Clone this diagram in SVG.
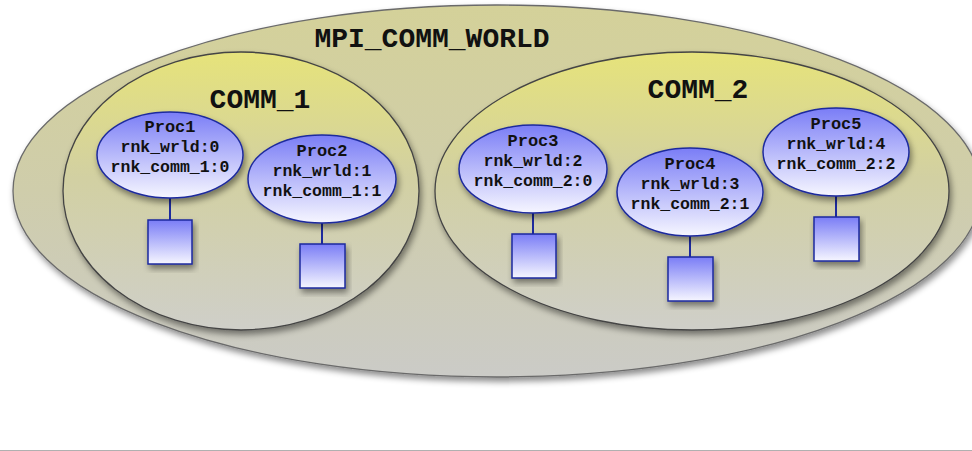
<svg xmlns="http://www.w3.org/2000/svg" width="972" height="451" viewBox="0 0 972 451">
<defs>
<linearGradient id="gWorld" x1="0" y1="0" x2="0" y2="1">
<stop offset="0" stop-color="#d4d199"/>
<stop offset="0.5" stop-color="#cfcdab"/>
<stop offset="1" stop-color="#cbcbc7"/>
</linearGradient>
<linearGradient id="gComm" x1="0" y1="0" x2="0" y2="1">
<stop offset="0" stop-color="#e6e37a"/>
<stop offset="0.45" stop-color="#d2d0a2"/>
<stop offset="1" stop-color="#cfcfc9"/>
</linearGradient>
<linearGradient id="gProc" x1="0" y1="0" x2="0" y2="1">
<stop offset="0" stop-color="#7a7df6"/>
<stop offset="1" stop-color="#f6f6ff"/>
</linearGradient>
<filter id="sh" x="-10%" y="-10%" width="125%" height="130%">
<feDropShadow dx="2" dy="4" stdDeviation="3" flood-color="#000" flood-opacity="0.45"/>
</filter>
</defs>
<style>
.world{fill:url(#gWorld);stroke:#6b6b6b;stroke-width:1.3;filter:url(#sh)}
.comm{fill:url(#gComm);stroke:#444;stroke-width:1.3;filter:url(#sh)}
.proc{fill:url(#gProc);stroke:#1d2a9e;stroke-width:1.5;filter:url(#sh)}
.box{fill:url(#gProc);stroke:#1d2a9e;stroke-width:1.5;filter:url(#sh)}
.big{font-family:"Liberation Mono","Courier New",monospace;font-weight:bold;font-size:28px;fill:#111;text-anchor:middle}
.t{font-family:"Liberation Mono","Courier New",monospace;font-weight:bold;font-size:16.5px;fill:#111;text-anchor:middle}
.t1{font-size:17px}
.conn{stroke:#1d2a9e;stroke-width:2;fill:none}
</style>
<rect x="0" y="0" width="972" height="451" fill="#fff"/>
<g id="mpi_comm_world">
<ellipse class="world" cx="497" cy="191" rx="484" ry="186"/>
<text class="big" x="432" y="47">MPI_COMM_WORLD</text>
</g>
<g id="comm_1">
<ellipse class="comm" cx="241" cy="191" rx="178" ry="139"/>
<text class="big" x="260" y="108">COMM_1</text>
</g>
<g id="comm_2">
<ellipse class="comm" cx="692" cy="191" rx="257" ry="139"/>
<text class="big" x="698" y="98">COMM_2</text>
</g>
<g id="connectors">
<line class="conn" x1="170" y1="198" x2="170" y2="220"/>
<line class="conn" x1="322" y1="223" x2="322" y2="244"/>
<line class="conn" x1="533" y1="213" x2="533" y2="234"/>
<line class="conn" x1="690" y1="236" x2="690" y2="257"/>
<line class="conn" x1="836" y1="195" x2="836" y2="217"/>
</g>
<g id="proc1">
<ellipse class="proc" cx="170" cy="155" rx="73" ry="43"/>
<text class="t t1" x="170" y="132">Proc1</text>
<text class="t" x="170" y="152">rnk_wrld:0</text>
<text class="t" x="170" y="172">rnk_comm_1:0</text>
</g>
<g id="proc2">
<ellipse class="proc" cx="322" cy="179" rx="74" ry="44"/>
<text class="t t1" x="322" y="156">Proc2</text>
<text class="t" x="322" y="176">rnk_wrld:1</text>
<text class="t" x="322" y="196">rnk_comm_1:1</text>
</g>
<g id="proc3">
<ellipse class="proc" cx="533" cy="169" rx="74" ry="44"/>
<text class="t t1" x="533" y="146">Proc3</text>
<text class="t" x="533" y="166">rnk_wrld:2</text>
<text class="t" x="533" y="186">rnk_comm_2:0</text>
</g>
<g id="proc4">
<ellipse class="proc" cx="690" cy="192" rx="73" ry="44"/>
<text class="t t1" x="690" y="169">Proc4</text>
<text class="t" x="690" y="189">rnk_wrld:3</text>
<text class="t" x="690" y="209">rnk_comm_2:1</text>
</g>
<g id="proc5">
<ellipse class="proc" cx="836" cy="152" rx="73" ry="44"/>
<text class="t t1" x="836" y="129">Proc5</text>
<text class="t" x="836" y="149">rnk_wrld:4</text>
<text class="t" x="836" y="169">rnk_comm_2:2</text>
</g>
<g id="box1"><rect class="box" x="148" y="220" width="44" height="44"/></g>
<g id="box2"><rect class="box" x="300" y="244" width="45" height="44"/></g>
<g id="box3"><rect class="box" x="512" y="234" width="44" height="44"/></g>
<g id="box4"><rect class="box" x="668" y="257" width="45" height="44"/></g>
<g id="box5"><rect class="box" x="814" y="217" width="45" height="44"/></g>
<rect x="0" y="450" width="972" height="1" fill="#b0b0b0"/>
</svg>
